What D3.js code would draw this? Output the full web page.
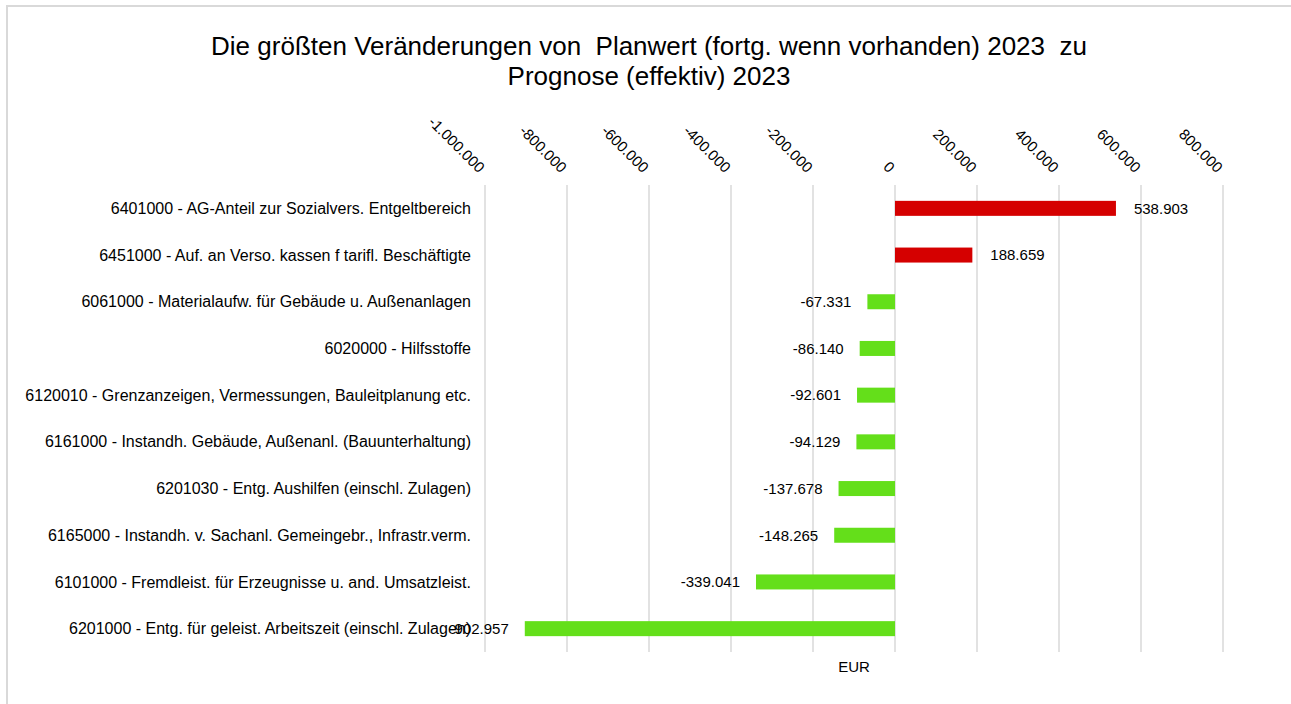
<!DOCTYPE html>
<html>
<head>
<meta charset="utf-8">
<script src="https://cdn.jsdelivr.net/npm/d3@7"></script>
<style>
  body { margin: 0; background: #fff; }
  svg { font-family: "Liberation Sans", Arial, sans-serif; }
  .title { white-space: pre; }
</style>
</head>
<body>
<svg id="chart"></svg>
<script>
const width = 1291;
const height = 704;

const categories = [
  "6401000 - AG-Anteil zur Sozialvers. Entgeltbereich",
  "6451000 - Auf. an Verso. kassen f tarifl. Beschäftigte",
  "6061000 - Materialaufw. für Gebäude u. Außenanlagen",
  "6020000 - Hilfsstoffe",
  "6120010 - Grenzanzeigen, Vermessungen, Bauleitplanung etc.",
  "6161000 - Instandh. Gebäude, Außenanl. (Bauunterhaltung)",
  "6201030 - Entg. Aushilfen (einschl. Zulagen)",
  "6165000 - Instandh. v. Sachanl. Gemeingebr., Infrastr.verm.",
  "6101000 - Fremdleist. für Erzeugnisse u. and. Umsatzleist.",
  "6201000 - Entg. für geleist. Arbeitszeit (einschl. Zulagen)"
];
const values = [538903, 188659, -67331, -86140, -92601, -94129, -137678, -148265, -339041, -902957];
const tickValues = [-1000000, -800000, -600000, -400000, -200000, 0, 200000, 400000, 600000, 800000];

const titleLines = [
  "Die größten Veränderungen von  Planwert (fortg. wenn vorhanden) 2023  zu",
  "Prognose (effektiv) 2023"
];
const axisTitle = "EUR";

const de = d3.formatLocale({ decimal: ",", thousands: ".", grouping: [3], currency: ["", " €"], minus: "-" });
const fmt = de.format(",.0f");

const svg = d3.select("#chart")
  .attr("width", width)
  .attr("height", height);

// frame
svg.append("rect")
  .attr("x", 7).attr("y", 6)
  .attr("width", width + 20).attr("height", height + 20)
  .attr("fill", "none")
  .attr("stroke", "#d9d9d9")
  .attr("stroke-width", 2);

// title
svg.append("text")
  .attr("class", "title")
  .attr("x", 649)
  .attr("y", 55)
  .attr("text-anchor", "middle")
  .attr("font-size", 26)
  .attr("fill", "#000")
  .selectAll("tspan")
  .data(titleLines)
  .enter()
  .append("tspan")
  .attr("x", 649)
  .attr("dy", (d, i) => i === 0 ? 0 : 30)
  .text(d => d);

const plot = { left: 485, right: 1223, top: 185, bottom: 652 };

const xScale = d3.scaleLinear()
  .domain([-1000000, 800000])
  .range([plot.left, plot.right]);

const yScale = d3.scaleBand()
  .domain(categories)
  .range([plot.top, plot.bottom]);

const barH = 15;

// gridlines
svg.append("g")
  .selectAll("line")
  .data(tickValues)
  .enter()
  .append("line")
  .attr("x1", d => xScale(d))
  .attr("x2", d => xScale(d))
  .attr("y1", plot.top)
  .attr("y2", plot.bottom)
  .attr("stroke", "#d9d9d9")
  .attr("stroke-width", 1.5);

// tick labels (rotated)
svg.append("g")
  .selectAll("text")
  .data(tickValues)
  .enter()
  .append("text")
  .attr("transform", d => `translate(${xScale(d) - 3},${170}) rotate(45)`)
  .attr("text-anchor", "end")
  .attr("dy", "0.35em")
  .attr("font-size", 15)
  .attr("fill", "#000")
  .text(d => fmt(d));

// category labels
svg.append("g")
  .selectAll("text")
  .data(categories)
  .enter()
  .append("text")
  .attr("x", 471)
  .attr("y", d => yScale(d) + yScale.bandwidth() / 2)
  .attr("dy", "0.35em")
  .attr("text-anchor", "end")
  .attr("font-size", 16)
  .attr("fill", "#000")
  .text(d => d);

// bars
svg.append("g")
  .selectAll("rect")
  .data(values)
  .enter()
  .append("rect")
  .attr("x", d => Math.min(xScale(d), xScale(0)))
  .attr("y", (d, i) => yScale(categories[i]) + (yScale.bandwidth() - barH) / 2)
  .attr("width", d => Math.abs(xScale(d) - xScale(0)))
  .attr("height", barH)
  .attr("fill", d => d >= 0 ? "#d50000" : "#64df1a");

// value labels
svg.append("g")
  .selectAll("text")
  .data(values)
  .enter()
  .append("text")
  .attr("x", d => d >= 0 ? xScale(d) + 18 : xScale(d) - 16)
  .attr("y", (d, i) => yScale(categories[i]) + yScale.bandwidth() / 2)
  .attr("dy", "0.35em")
  .attr("text-anchor", d => d >= 0 ? "start" : "end")
  .attr("font-size", 15)
  .attr("fill", "#000")
  .text(d => fmt(d));

// axis title
svg.append("text")
  .attr("x", (plot.left + plot.right) / 2)
  .attr("y", 672)
  .attr("text-anchor", "middle")
  .attr("font-size", 15)
  .attr("fill", "#000")
  .text(axisTitle);
</script>
</body>
</html>
